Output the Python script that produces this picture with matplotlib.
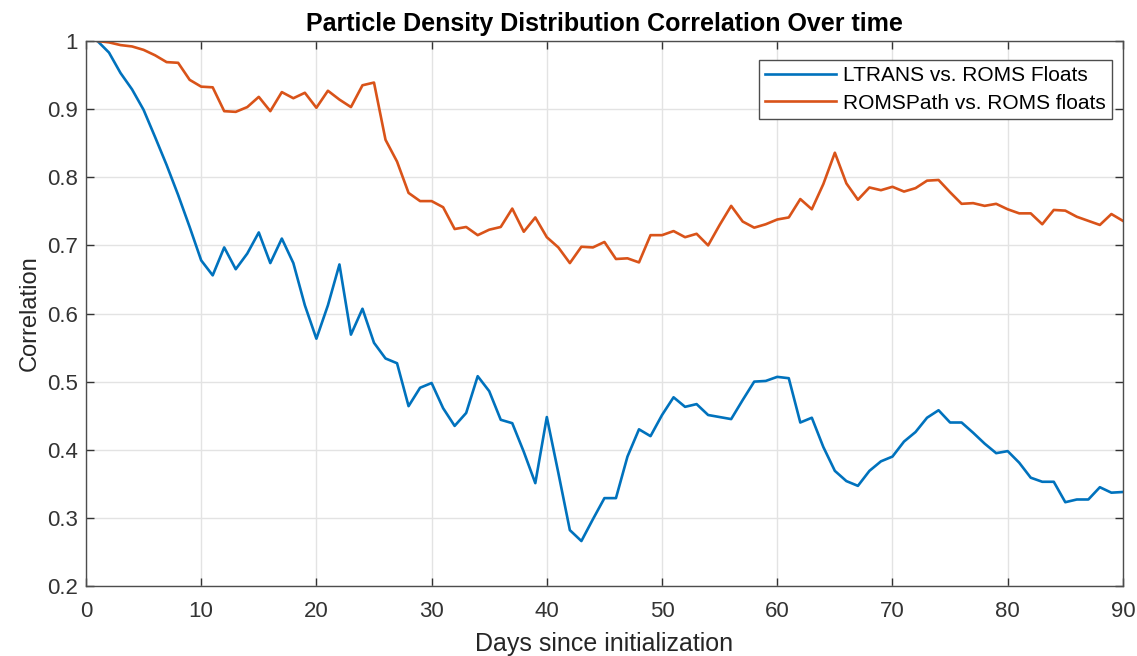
import matplotlib
matplotlib.use("Agg")
import matplotlib.pyplot as plt
import numpy as np

plt.rcParams["font.family"] = ["Liberation Sans", "DejaVu Sans"]

days = np.arange(1, 91)

ltrans = [
    1.000, 0.983, 0.953, 0.929, 0.899, 0.859, 0.818, 0.774, 0.727, 0.678,
    0.656, 0.697, 0.665, 0.688, 0.719, 0.674, 0.710, 0.674, 0.612, 0.563,
    0.612, 0.672, 0.569, 0.607, 0.557, 0.534, 0.527, 0.464, 0.491, 0.498,
    0.461, 0.435, 0.454, 0.508, 0.486, 0.444, 0.439, 0.397, 0.351, 0.448,
    0.366, 0.282, 0.266, 0.298, 0.329, 0.329, 0.390, 0.430, 0.420, 0.451,
    0.477, 0.463, 0.467, 0.451, 0.448, 0.445, 0.473, 0.500, 0.501, 0.507,
    0.505, 0.440, 0.447, 0.404, 0.369, 0.354, 0.347, 0.369, 0.383, 0.390,
    0.412, 0.426, 0.447, 0.458, 0.440, 0.440, 0.425, 0.409, 0.395, 0.398,
    0.381, 0.359, 0.353, 0.353, 0.323, 0.327, 0.327, 0.345, 0.337, 0.338,
]

romspath = [
    1.000, 0.998, 0.994, 0.992, 0.987, 0.979, 0.969, 0.968, 0.943, 0.933,
    0.932, 0.897, 0.896, 0.903, 0.918, 0.897, 0.925, 0.916, 0.924, 0.902,
    0.927, 0.914, 0.903, 0.935, 0.939, 0.855, 0.823, 0.777, 0.765, 0.765,
    0.756, 0.724, 0.727, 0.715, 0.723, 0.727, 0.754, 0.720, 0.741, 0.712,
    0.697, 0.674, 0.698, 0.697, 0.705, 0.680, 0.681, 0.675, 0.715, 0.715,
    0.721, 0.712, 0.717, 0.700, 0.730, 0.758, 0.735, 0.726, 0.731, 0.738,
    0.741, 0.768, 0.753, 0.790, 0.836, 0.791, 0.767, 0.785, 0.781, 0.786,
    0.779, 0.784, 0.795, 0.796, 0.778, 0.761, 0.762, 0.758, 0.761, 0.753,
    0.747, 0.747, 0.731, 0.752, 0.751, 0.742, 0.736, 0.730, 0.746, 0.736,
]

labels = ["LTRANS vs. ROMS Floats", "ROMSPath vs. ROMS floats"]

fig = plt.figure(figsize=(11.37, 6.56), dpi=100)
ax = fig.add_axes([0.0756, 0.1067, 0.912, 0.8308])

ax.plot(days, ltrans, color="#0072BD", lw=1.9, label=labels[0])
ax.plot(days, romspath, color="#D95319", lw=1.9, label=labels[1])

ax.set_xlim(0, 90)
ax.set_ylim(0.2, 1.0)
ax.set_xticks(np.arange(0, 91, 10))
ax.set_yticks(np.arange(0.2, 1.01, 0.1))
ax.set_yticklabels(["0.2", "0.3", "0.4", "0.5", "0.6", "0.7", "0.8", "0.9", "1"])
ax.grid(True, color="#E3E3E3", linewidth=1.0)
ax.set_axisbelow(True)
ax.tick_params(direction="in", top=True, right=True, length=6, width=1.0,
               colors="#333333", labelsize=16)
ax.tick_params(axis="y", pad=6)
ax.tick_params(axis="x", pad=11)
for s in ax.spines.values():
    s.set_color("#4D4D4D")
    s.set_linewidth(1.0)

ax.set_xlabel("Days since initialization", fontsize=18, color="#262626", labelpad=7)
ax.set_ylabel("Correlation", fontsize=17, color="#262626", labelpad=4)
ax.set_title("Particle Density Distribution Correlation Over time",
             fontsize=18, fontweight="bold", pad=7)

leg = ax.legend(loc="upper right", bbox_to_anchor=(0.9894, 0.965), fontsize=15,
                fancybox=False, framealpha=1, edgecolor="#4D4D4D",
                handlelength=3.4, handletextpad=0.35, borderaxespad=0,
                borderpad=0.3, labelspacing=0.4)
leg.get_frame().set_linewidth(1.0)

fig.savefig("out.png", dpi=100)
